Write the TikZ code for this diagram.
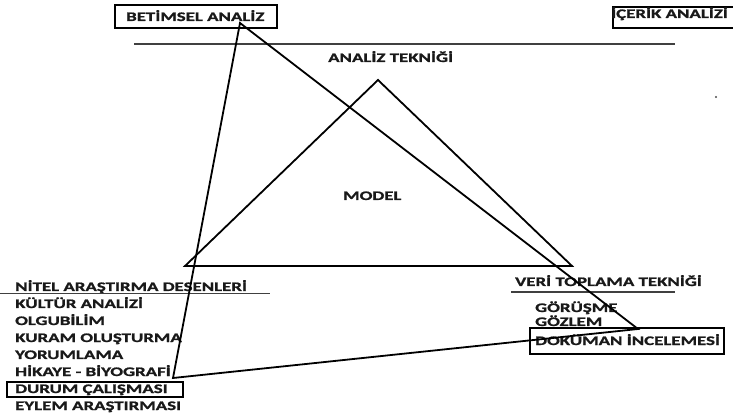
\documentclass[tikz,border=0pt]{standalone}
\usepackage{fontspec}
\newfontfamily\lblfont{Carlito}[FakeStretch=1.45, BoldFeatures={FakeBold=1.3}]
\tikzset{
  lbl/.style={font=\lblfont\bfseries\fontsize{13}{15}\selectfont, inner sep=0pt, anchor=base west, text=black!90},
  framebox/.style={draw, line width=1.6pt, inner sep=0pt},
  edge/.style={line width=1.8pt, line join=miter},
  rule/.style={line width=1.6pt, draw=black!75},
}
\begin{document}
\begin{tikzpicture}[x=1pt,y=-1pt]
\useasboundingbox (0,0) rectangle (733,419);
\clip (0,0) rectangle (733,419);
% boxes
\node[framebox, minimum width=162pt, minimum height=23pt] (betbox) at (196,16.5) {};
\node[framebox, minimum width=134pt, minimum height=21pt] (icbox) at (680,17.5) {};
\node[framebox, minimum width=176pt, minimum height=15pt] (durbox) at (95,389.5) {};
\node[framebox, minimum width=194pt, minimum height=26pt] (dokbox) at (627,341) {};
% top texts
\node[lbl] (bet) at (126,21) {BETİMSEL ANALİZ};
\node[lbl] (icerik) at (611,18) {İÇERİK ANALİZİ};
\node[lbl] (analiz) at (328,62) {ANALİZ TEKNİĞİ};
\node[lbl] (model) at (343,200) {MODEL};
% top rule
\coordinate (r1a) at (134,44);
\coordinate (r1b) at (675,44);
\draw[rule] (r1a) -- (r1b);
% dot
\fill[black!70] (716,97) circle (1.1pt);
% left list
\node[lbl] (nitel) at (15,291) {NİTEL ARAŞTIRMA DESENLERİ};
\coordinate (r2a) at (0,293.5);
\coordinate (r2b) at (270,293.5);
\draw[rule] (r2a) -- (r2b);
\node[lbl] (kultur) at (15,308) {KÜLTÜR ANALİZİ};
\node[lbl] (olgu) at (15,325) {OLGUBİLİM};
\node[lbl] (kuram) at (15,342) {KURAM OLUŞTURMA};
\node[lbl] (yorum) at (15,359) {YORUMLAMA};
\node[lbl] (hikaye) at (15,376) {HİKAYE - BİYOGRAFİ};
\node[lbl] (durum) at (15,393) {DURUM ÇALIŞMASI};
\node[lbl] (eylem) at (15,410) {EYLEM ARAŞTIRMASI};
% right list
\node[lbl] (veri) at (515,286) {VERİ TOPLAMA TEKNİĞİ};
\coordinate (r3a) at (511,292);
\coordinate (r3b) at (675,292);
\draw[rule] (r3a) -- (r3b);
\node[lbl] (gorusme) at (535,312) {GÖRÜŞME};
\node[lbl] (gozlem) at (535,326) {GÖZLEM};
\node[lbl] (dokuman) at (535,345) {DOKÜMAN İNCELEMESİ};
% inner triangle
\coordinate (tA) at (378,80);
\coordinate (tL) at (185,266);
\coordinate (tR) at (572,266);
\draw[edge] (tA) -- (tL) -- (tR) -- cycle;
% big triangle
\coordinate (bA) at (240,23);
\coordinate (bD) at (173,378);
\coordinate (bK) at (638,329);
\draw[edge] (bA) -- (bD) -- (bK) -- cycle;
\end{tikzpicture}
\end{document}
